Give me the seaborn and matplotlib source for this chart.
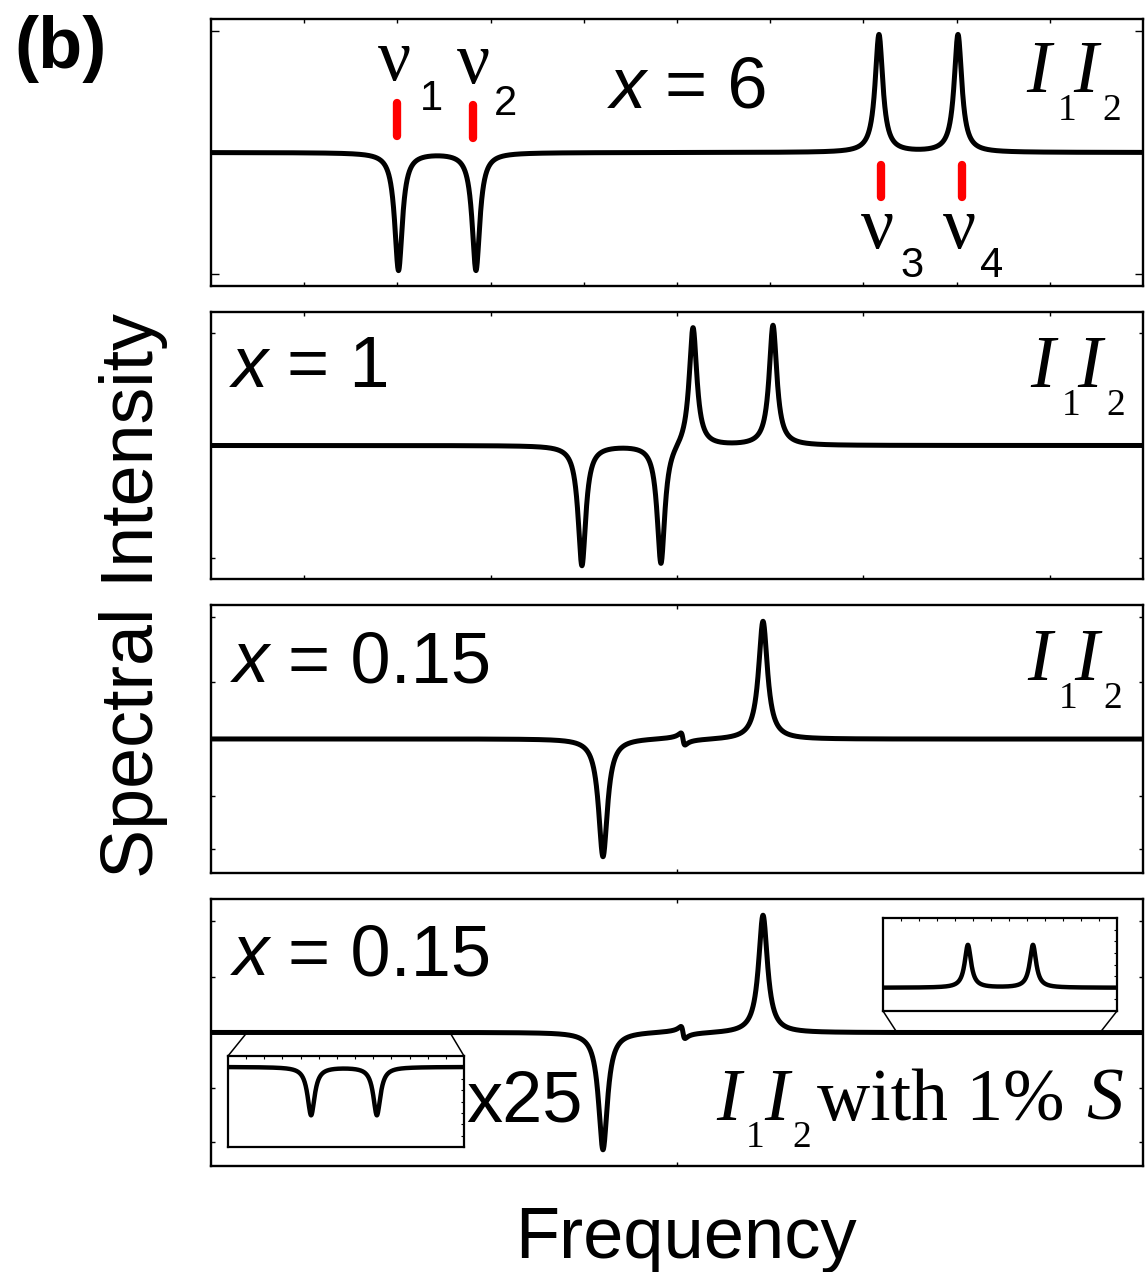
"""
Spectral intensity vs frequency for four cases (x = 6, 1, 0.15, 0.15 with 1% S).
Stacked frames, Lorentzian line shapes built from the peak tables below.
"""
import numpy as np
import pandas as pd
import matplotlib
matplotlib.use("Agg")
import matplotlib.pyplot as plt
from matplotlib.patches import ConnectionPatch
import seaborn as sns

W, H, DPI = 1147, 1272, 100

# ---- peak tables (frequency axis in arbitrary units 0..1) ----
# panel 1 : x = 6
P1_CENTERS = [0.2012, 0.2843, 0.7167, 0.8015]
P1_AMPS = [-0.97, -0.97, 0.97, 0.97]
P1_WIDTHS = [0.005, 0.005, 0.005, 0.005]
# panel 2 : x = 1
P2_CENTERS = [0.3980, 0.4828, 0.5172, 0.6030]
P2_AMPS = [-0.99, -0.99, 0.99, 0.99]
P2_WIDTHS = [0.005, 0.005, 0.005, 0.005]
# panels 3 and 4 : x = 0.15
P3_CENTERS = [0.4206, 0.5923]
P3_AMPS = [-0.97, 0.97]
P3_WIDTHS = [0.0058, 0.0058]
# the small dispersive wiggle between them
P3_DISP_CENTERS = [0.5064]
P3_DISP_AMPS = [0.10]
P3_DISP_WIDTHS = [0.0022]

# x25 insets of panel 4
INSET_L_XLIM = [0.0386, 0.2564]
INSET_L_CENTERS = [0.1153, 0.1760]
INSET_L_AMPS = [-0.53, -0.53]
INSET_L_WIDTHS = [0.0040, 0.0040]
INSET_R_XLIM = [0.736, 0.954]
INSET_R_CENTERS = [0.8151, 0.8757]
INSET_R_AMPS = [0.46, 0.46]
INSET_R_WIDTHS = [0.0036, 0.0036]

# red markers for nu_1..nu_4 (panel 1)
NU_POS = [0.2001, 0.2806, 0.7194, 0.8058]
NU_Y0 = [0.14, 0.12, -0.10, -0.10]
NU_Y1 = [0.41, 0.39, -0.37, -0.37]

SANS = ["Liberation Sans", "DejaVu Sans"]
SERIF = ["Liberation Serif", "DejaVu Serif"]

sns.set_theme(style="white")
plt.rcParams["font.family"] = SANS
plt.rcParams["text.color"] = "black"
plt.rcParams["axes.linewidth"] = 1.7
plt.rcParams["axes.edgecolor"] = "black"
plt.rcParams["xtick.color"] = "black"
plt.rcParams["ytick.color"] = "black"


def lorentz(x, centers, amps, widths):
    y = np.zeros_like(x)
    for c, a, g in zip(centers, amps, widths):
        y += a * g**2 / ((x - c) ** 2 + g**2)
    return y


def dispersive(x, centers, amps, widths):
    y = np.zeros_like(x)
    for c, a, g in zip(centers, amps, widths):
        y += a * g * (c - x) / ((x - c) ** 2 + g**2)
    return y


def box(left, top, right, bottom):
    # pixel box -> figure fraction rect
    return [left / W, 1 - bottom / H, (right - left) / W, (bottom - top) / H]


def put(px, py, s, size, family=SANS, **kw):
    fig.text(px / W, 1 - py / H, s, fontsize=size, family=family,
             color="black", ha="left", va="baseline", **kw)


def draw_curve(ax, x, y, lw=3.6):
    df = pd.DataFrame({"freq": x, "inten": y})
    sns.lineplot(data=df, x="freq", y="inten", ax=ax, color="black",
                 lw=lw, estimator=None, sort=False)
    ax.set_xlabel("")
    ax.set_ylabel("")


fig = plt.figure(figsize=(W / DPI, H / DPI), dpi=DPI)

x = np.linspace(0, 1, 6001)
curves = [
    lorentz(x, P1_CENTERS, P1_AMPS, P1_WIDTHS),
    lorentz(x, P2_CENTERS, P2_AMPS, P2_WIDTHS),
    lorentz(x, P3_CENTERS, P3_AMPS, P3_WIDTHS)
    + dispersive(x, P3_DISP_CENTERS, P3_DISP_AMPS, P3_DISP_WIDTHS),
    lorentz(x, P3_CENTERS, P3_AMPS, P3_WIDTHS)
    + dispersive(x, P3_DISP_CENTERS, P3_DISP_AMPS, P3_DISP_WIDTHS),
]
frames = [(211, 19, 1143, 286), (211, 312, 1143, 579),
          (211, 605, 1143, 873), (211, 899, 1143, 1166)]
xticks = [np.arange(0.1, 1.0, 0.1), np.arange(0.1, 1.0, 0.2), [0.5], [0.5]]
yticks = [[-1, 1], [-0.93, 0.93], [-0.9, -0.47, 0.47, 1.0],
          [-0.9, -0.46, 0.46, 0.92]]

axes = []
for fr, yc, xt, yt in zip(frames, curves, xticks, yticks):
    ax = fig.add_axes(box(*fr))
    draw_curve(ax, x, yc)
    ax.set_xlim(0, 1)
    ax.set_ylim(-1.1, 1.1)
    ax.set_xticks(xt)
    ax.set_yticks(yt)
    ax.tick_params(direction="in", length=3, width=1, top=True, right=True,
                   left=True, bottom=True, labelleft=False, labelbottom=False)
    for sp in ax.spines.values():
        sp.set_visible(True)
        sp.set_color("black")
    axes.append(ax)
ax1, ax2, ax3, ax4 = axes
ax1.tick_params(axis="y", length=6)

# red frequency markers
for xp, y0, y1 in zip(NU_POS, NU_Y0, NU_Y1):
    ax1.plot([xp, xp], [y0, y1], color="#ff0000", lw=6,
             solid_capstyle="round")

# insets (x25)
axL = fig.add_axes(box(228, 1056, 464, 1147))
xl = np.linspace(INSET_L_XLIM[0], INSET_L_XLIM[1], 2001)
draw_curve(axL, xl, lorentz(xl, INSET_L_CENTERS, INSET_L_AMPS, INSET_L_WIDTHS),
           lw=3.2)
axL.set_xlim(*INSET_L_XLIM)
axL.set_ylim(-0.88, 0.12)

axR = fig.add_axes(box(883, 918, 1117, 1011))
xr = np.linspace(INSET_R_XLIM[0], INSET_R_XLIM[1], 2001)
draw_curve(axR, xr, lorentz(xr, INSET_R_CENTERS, INSET_R_AMPS, INSET_R_WIDTHS),
           lw=3.2)
axR.set_xlim(*INSET_R_XLIM)
axR.set_ylim(-0.25, 0.75)

for ax in (axL, axR):
    ax.set_facecolor("white")
    lo, hi = ax.get_xlim()
    ax.set_xticks(np.linspace(lo, hi, 14)[1:-1])
    b, t = ax.get_ylim()
    ax.set_yticks(np.linspace(b, t, 9)[1:-1])
    ax.tick_params(direction="in", length=2, width=0.8, top=True, right=True,
                   labelleft=False, labelbottom=False)
    for sp in ax.spines.values():
        sp.set_visible(True)
        sp.set_linewidth(1.6)

# connectors from the panel-4 baseline to the inset boxes
links = [((INSET_L_XLIM[0], 0), axL, (0, 1)), ((INSET_L_XLIM[1], 0), axL, (1, 1)),
         ((INSET_R_XLIM[0], 0), axR, (0, 0)), ((INSET_R_XLIM[1], 0), axR, (1, 0))]
for xyA, axB, xyB in links:
    con = ConnectionPatch(xyA=xyA, coordsA=ax4.transData, xyB=xyB,
                          coordsB=axB.transAxes, color="black", lw=1.1)
    fig.add_artist(con)

# ---- text ----
SZ = 52      # main sans labels
SZI = 53     # serif I / nu
SUB = 27     # serif subscripts
NSUB = 30    # sans subscripts under nu

put(14, 68, "(b)", SZ, weight="bold")

# nu labels
for nx, ny, sx, sy, d in [(378, 80, 420, 110, "1"), (457, 83, 494, 115, "2"),
                          (861, 248, 900, 277, "3"), (943, 248, 980, 277, "4")]:
    put(nx, ny, "\u03bd", SZI, family=SERIF)
    put(sx, sy, d, NSUB)

# x = ... labels
for xx, yy, val in [(610, 108, "6"), (232, 387, "1"), (233, 682, "0.15"),
                    (233, 975, "0.15")]:
    put(xx, yy, "x", SZ, style="italic")
    put(xx + 55, yy, "= " + val, SZ)

# I1 I2 labels
for ix, iy in [(1026, 92), (1030, 387), (1027, 680)]:
    put(ix, iy, "I", SZI, family=SERIF, style="italic")
    put(ix + 32, iy + 28, "1", SUB, family=SERIF)
    put(ix + 47, iy, "I", SZI, family=SERIF, style="italic")
    put(ix + 76, iy + 28, "2", SUB, family=SERIF)

put(716, 1120, "I", SZI, family=SERIF, style="italic")
put(746, 1147, "1", SUB, family=SERIF)
put(764, 1120, "I", SZI, family=SERIF, style="italic")
put(792, 1147, "2", SUB, family=SERIF)
put(817, 1120, "with 1%", SZI, family=SERIF)
put(1086, 1120, "S", SZI, family=SERIF, style="italic")

put(466, 1122, "x25", SZ)

fig.text(134 / W, 1 - 595 / H, "Spectral Intensity", fontsize=53,
         rotation=90, ha="center", va="center", family=SANS, color="black")
fig.text(686 / W, 1 - 1258 / H, "Frequency", fontsize=SZ, ha="center",
         va="baseline", family=SANS, color="black")

fig.savefig("out.png", dpi=DPI)
